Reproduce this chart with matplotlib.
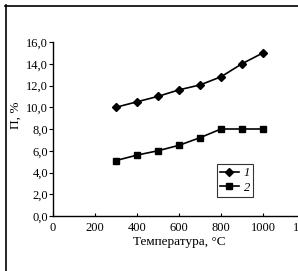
import numpy as np
import matplotlib
matplotlib.use("Agg")
import matplotlib.pyplot as plt
from matplotlib.lines import Line2D
from matplotlib.ticker import FuncFormatter

# data
temp = [300, 400, 500, 600, 700, 800, 900, 1000]
p1 = [10.0, 10.5, 11.0, 11.6, 12.05, 12.8, 14.0, 15.0]
p2 = [5.1, 5.6, 6.0, 6.5, 7.2, 8.0, 8.0, 8.0]
series_labels = ["1", "2"]
x_ticks = [0, 200, 400, 600, 800, 1000, 1200]
y_ticks = [0, 2, 4, 6, 8, 10, 12, 14, 16]

plt.rcParams['font.family'] = ['Liberation Serif', 'DejaVu Serif']
plt.rcParams['font.size'] = 9

fig = plt.figure(figsize=(2.98, 2.71), dpi=100)
ax = fig.add_axes([53/298, 55/271, 252/298, 174/271])

ax.plot(temp, p1, 'k-', marker='D', ms=3.8, lw=1.2)
ax.plot(temp, p2, 'k-', marker='s', ms=4.5, lw=1.2)

ax.set_xlim(0, 1200)
ax.set_ylim(0, 16)
ax.set_xticks(x_ticks)
ax.set_yticks(y_ticks)
ax.yaxis.set_major_formatter(FuncFormatter(lambda v, p: f"{v:.1f}".replace('.', ',')))
ax.tick_params(axis='x', direction='in', length=2.5, width=0.8, pad=4)
ax.tick_params(axis='y', direction='out', length=3, width=0.8, pad=0.5)
ax.spines['top'].set_visible(False)
ax.spines['right'].set_visible(False)
for s in ('left', 'bottom'):
    ax.spines[s].set_linewidth(1.0)
ax.set_xlabel("Температура, °С", labelpad=1.5, fontsize=9.5)

fig.text(16/298, 1 - 115/271, "П, %", rotation=90, ha='center', va='center', fontsize=9.5)

handles = [Line2D([], [], color='k', marker='D', ms=3.8, lw=1.2),
           Line2D([], [], color='k', marker='s', ms=4.5, lw=1.2)]
leg = ax.legend(handles, series_labels, loc='lower left', bbox_to_anchor=(0.65, 0.11),
                frameon=True, fancybox=False, handlelength=1.5, handletextpad=0.4,
                borderpad=0.25, labelspacing=0.2, borderaxespad=0.0,
                prop={'style': 'italic', 'size': 9})
leg.get_frame().set_edgecolor('k')
leg.get_frame().set_linewidth(0.8)

# scan frame lines
fig.add_artist(Line2D([6/298, 6/298], [0, 1 - 5/271], color='k', lw=1.2, transform=fig.transFigure))
fig.add_artist(Line2D([5/298, 1], [1 - 6/271, 1 - 6/271], color='k', lw=1.2, transform=fig.transFigure))

fig.savefig("out.png", dpi=100)
